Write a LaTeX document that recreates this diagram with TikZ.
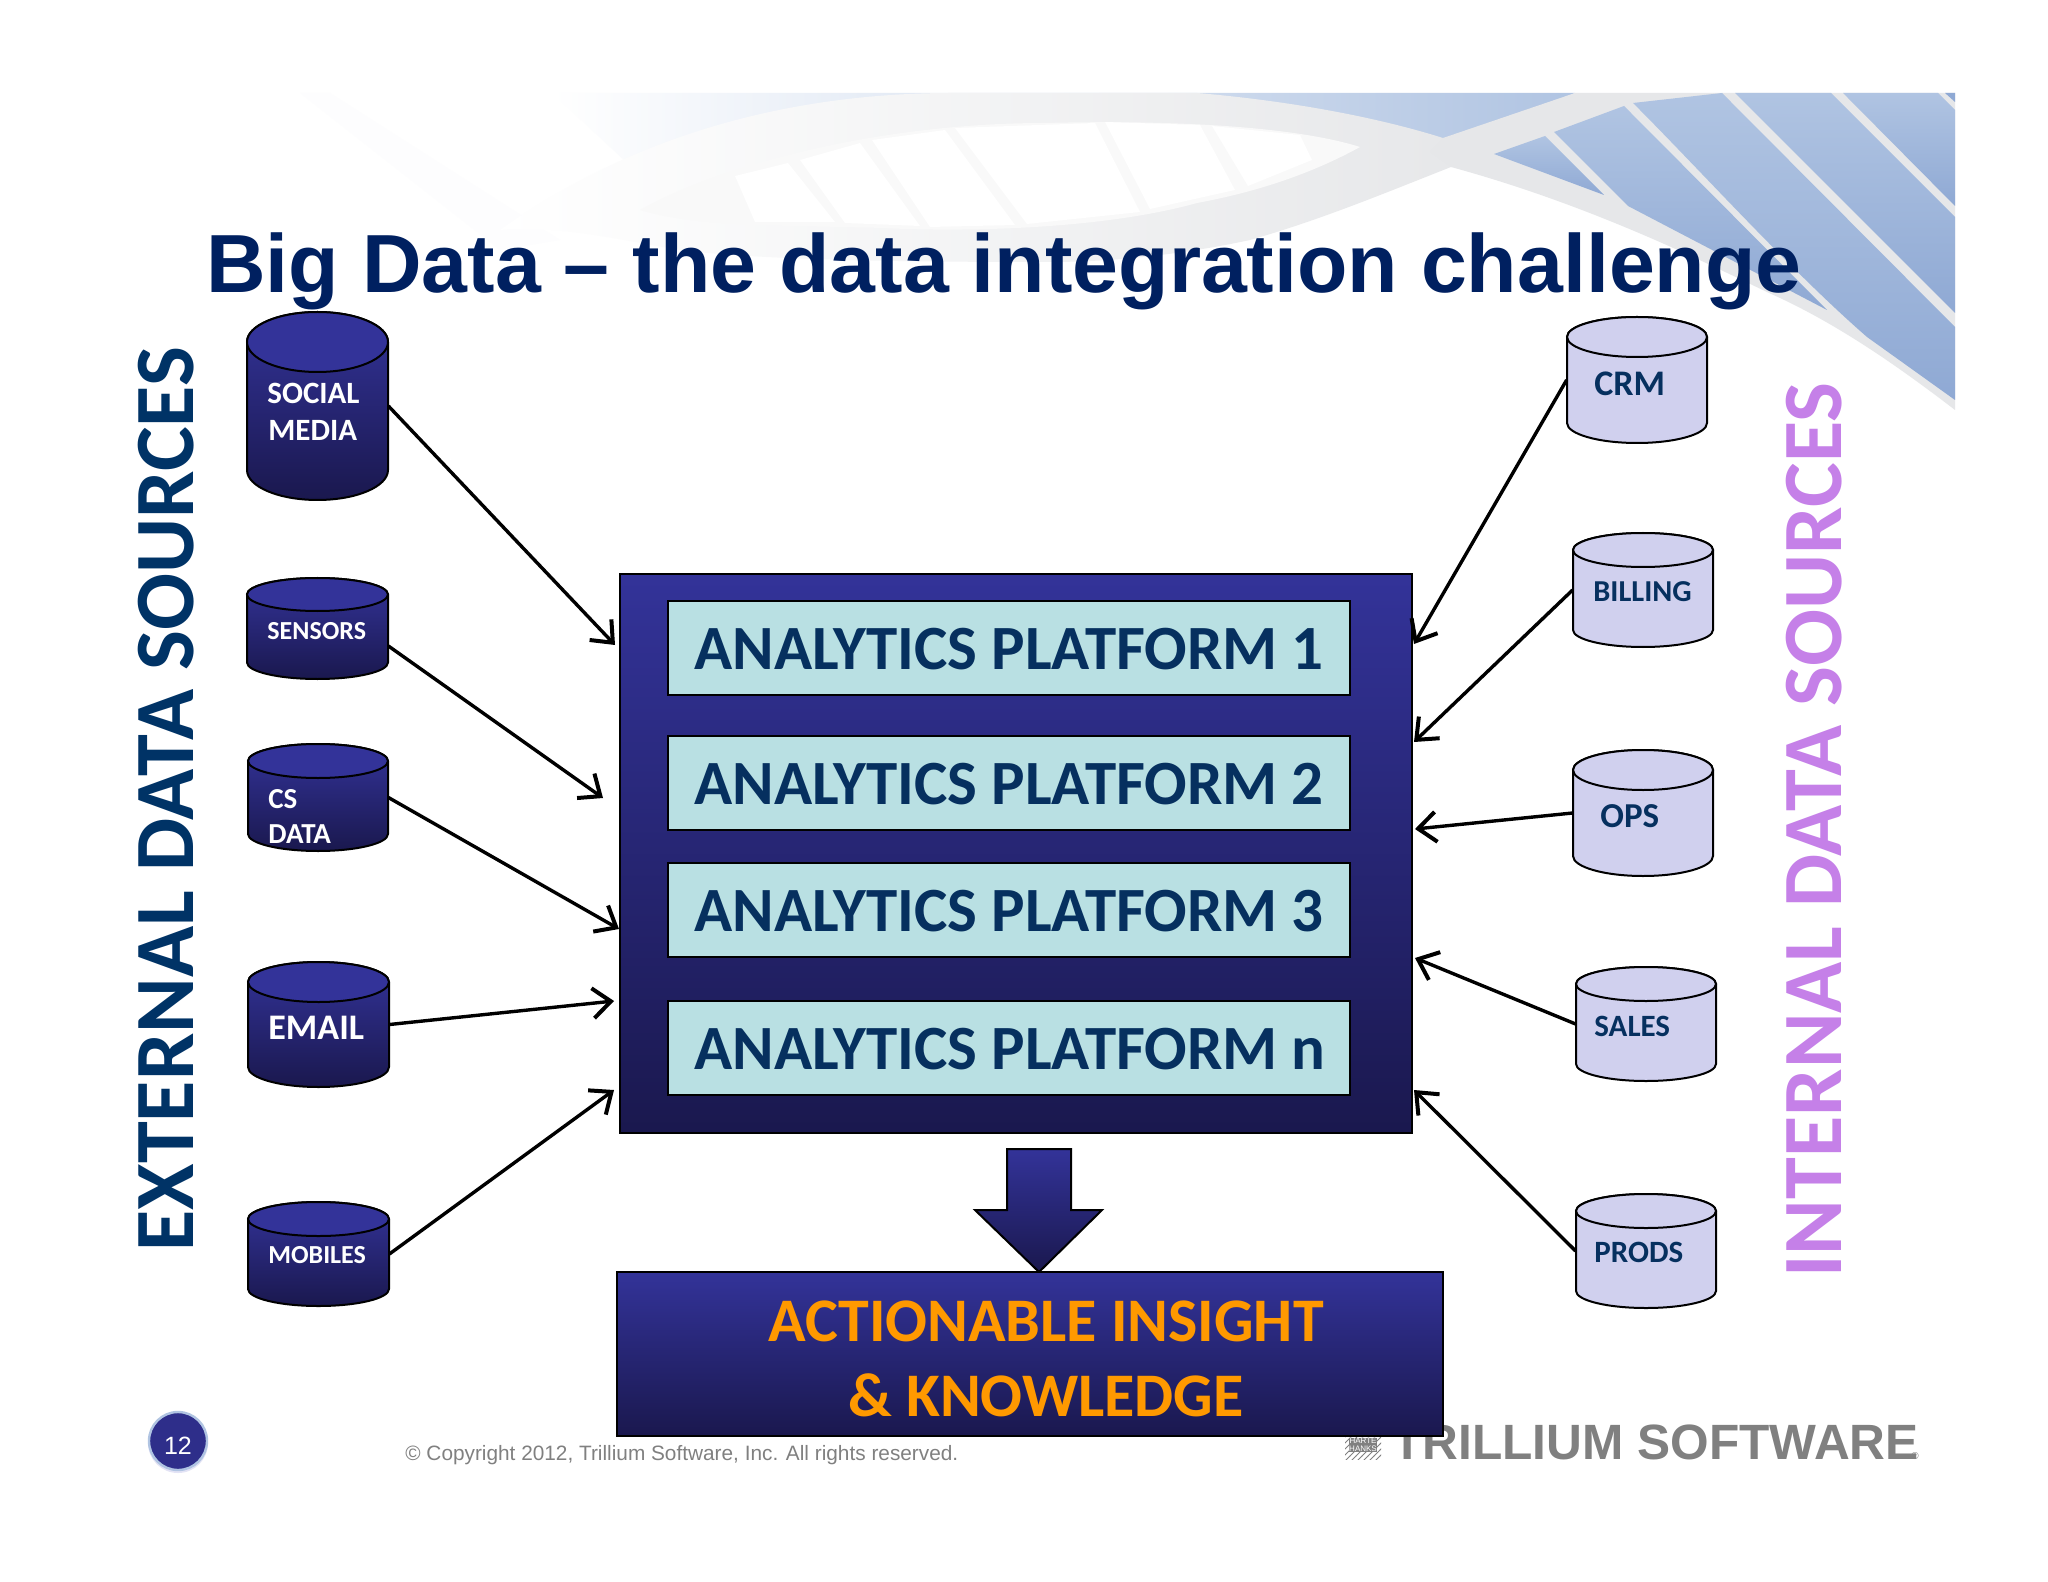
\documentclass[tikz,border=0pt]{standalone}
\usepackage{fontspec}
\setmainfont{Carlito}
\newfontfamily\arialf{Liberation Sans}
\usetikzlibrary{arrows.meta,calc,patterns}
\definecolor{hi}{HTML}{333399}
\definecolor{mid}{HTML}{2C2C88}
\definecolor{lo}{HTML}{1A184E}
\definecolor{lightcyl}{HTML}{D0D0EE}
\definecolor{plat}{HTML}{B9E0E3}
\definecolor{navytxt}{HTML}{06305F}
\definecolor{titlec}{HTML}{002060}
\definecolor{extc}{HTML}{003366}
\definecolor{intc}{HTML}{C580E8}
\definecolor{orangec}{HTML}{FF9900}
\definecolor{band}{HTML}{E6E7E9}
\definecolor{bluea}{HTML}{B0C4E2}
\definecolor{blueb}{HTML}{8FA9D4}
\definecolor{logoc}{HTML}{808080}
\tikzset{
 navyfill/.style={top color=hi,middle color=mid,bottom color=lo},
 darkcyl/.style={navyfill,draw=black,line width=1pt},
 palecyl/.style={fill=lightcyl,draw=black,line width=1pt},
 link/.style={draw=black,line width=1.7pt,-{Straight Barb[length=9pt,width=15pt,line width=2pt]}},
 platbox/.style={draw=black,line width=1pt,fill=plat,inner sep=0pt},
 plattxt/.style={anchor=base west,inner sep=0pt,text=navytxt,font=\fontsize{31.5}{36}\selectfont\bfseries},
 whitelab/.style={anchor=base west,inner sep=0pt,text=white,font=\fontsize{#1}{#1}\selectfont\bfseries},
 navylab/.style={anchor=base west,inner sep=0pt,text=navytxt,font=\fontsize{#1}{#1}\selectfont\bfseries},
 insighttxt/.style={anchor=base,inner sep=0pt,text=orangec,font=\fontsize{31}{36}\selectfont\bfseries},
 sidelab/.style={anchor=base west,rotate=90,inner sep=0pt,font=\fontsize{42.2}{50}\selectfont\bfseries},
}
\newcommand{\cyl}[8]{%
 \pgfmathsetmacro\cw{(#4-#2)*0.25}%
 \pgfmathsetmacro\cr{#6*0.5}%
 \path[#7] (#2,#3+#6) arc[start angle=180,end angle=0,x radius=\cw pt,y radius=\cr pt] -- (#4,#5-#6)
   arc[start angle=0,end angle=-180,x radius=\cw pt,y radius=\cr pt] -- cycle;
 \draw[fill=#8,line width=1pt] ({(#2+#4)/2},#3+#6) ellipse[x radius=\cw pt,y radius=\cr pt];
 \pgfmathsetmacro\nw{(#4-#2)*0.5}%
 \pgfmathsetmacro\nh{(#5-#3)*0.5}%
 \node[inner sep=0pt,minimum width=\nw pt,minimum height=\nh pt] (#1) at ({(#2+#4)/2},{(#3+#5)/2}) {};
}
\begin{document}
\begin{tikzpicture}[x=0.5pt,y=-0.5pt]
\useasboundingbox (0,0) rectangle (2048,1582);
\fill[white] (0,0) rectangle (2048,1582);
% --- background: DNA helix
\shade[left color=white,right color=bluea] (552,93) -- (1575,93) -- (1443,145) -- (1000,145) -- (640,175) -- cycle;
\fill[white!94!band] (300,93) -- (330,93) -- (560,240) -- (500,250) -- cycle;
% arch and lower strand, left of the crossing
\shade[left color=white,right color=band] (500,230) .. controls (640,130) and (800,93) .. (952,93) -- (1197,93)
  .. controls (1280,100) and (1370,115) .. (1443,138) -- (1480,152) -- (1451,167)
  .. controls (1380,195) and (1320,220) .. (1250,240) .. controls (1180,255) and (1110,262) .. (1050,262)
  .. controls (900,262) and (760,260) .. (680,250) .. controls (620,240) and (560,225) .. (500,230) -- cycle;
% inner oval with rungs
\fill[band!25!white] (640,210) .. controls (720,165) and (880,123) .. (1045,123)
  .. controls (1160,120) and (1290,125) .. (1360,147) .. controls (1300,180) and (1240,195) .. (1197,203)
  .. controls (1100,230) and (960,232) .. (882,228) .. controls (790,225) and (700,228) .. (640,210) -- cycle;
\fill[white] (735,176) -- (788,163) -- (835,222) -- (755,222) -- cycle;
\fill[white] (800,160) -- (860,143) -- (920,226) -- (845,223) -- cycle;
\fill[white] (872,140) -- (945,130) -- (1015,225) -- (930,227) -- cycle;
\fill[white] (955,128) -- (1095,123) -- (1140,212) -- (1027,224) -- cycle;
\fill[white] (1105,122) -- (1200,125) -- (1235,190) -- (1150,209) -- cycle;
\fill[white] (1212,126) -- (1300,135) -- (1312,160) -- (1248,186) -- cycle;
% strand to the right of the crossing
\fill[band] (1443,138) -- (1575,93) -- (1955,93) -- (1955,410)
  .. controls (1890,360) and (1830,320) .. (1769,293) .. controls (1700,260) and (1590,205) .. (1451,167) -- (1430,152) -- cycle;
\shade[top color=bluea,bottom color=blueb] (1494,154) -- (1545,136) -- (1604,195) -- cycle;
\shade[top color=bluea,bottom color=blueb] (1554,132) -- (1624,106) -- (1827,310) -- (1628,206) -- cycle;
\shade[top color=bluea,bottom color=blueb] (1633,103) -- (1722,93) -- (1955,327) -- (1955,400) -- (1867,337) .. controls (1790,270) and (1700,170) .. (1633,103) -- cycle;
\shade[top color=bluea,bottom color=blueb] (1735,93) -- (1831,93) -- (1955,217) -- (1955,313) -- cycle;
\shade[top color=bluea,bottom color=blueb] (1843,93) -- (1938,93) -- (1955,110) -- (1955,206) -- cycle;
\fill[blueb] (1945,93) -- (1955,93) -- (1955,102) -- cycle;
% --- title
\node[anchor=base west,inner sep=0pt,text=titlec,font=\arialf\fontsize{41.25}{46}\selectfont\bfseries] (title) at (206,293) {Big Data – the data integration challenge};
% --- side labels
\node[sidelab,text=extc] (extlab) at (193,1252) {EXTERNAL DATA SOURCES};
\node[sidelab,text=intc] (intlab) at (1841,1278) {INTERNAL DATA SOURCES};
% --- footer and logo
\node[anchor=base west,inner sep=0pt,text=logoc,font=\arialf\fontsize{24.8}{28}\selectfont\bfseries] (logo) at (1392,1459) {TRILLIUM SOFTWARE};
\node[anchor=base west,inner sep=0pt,text=logoc,font=\arialf\fontsize{5}{5}\selectfont] (reg) at (1911,1459) {®};
\node[minimum width=18pt,minimum height=18pt,inner sep=0pt,pattern=north east lines,pattern color=logoc] (hh) at (1363,1441) {};
\node[anchor=center,inner sep=0pt,align=center,text=white,fill=logoc,font=\arialf\fontsize{4}{4.2}\selectfont] (hhtext) at (1363,1445) {HARTE\\HANKS};
\node[anchor=base west,inner sep=0pt,text=logoc,font=\arialf\fontsize{10.4}{12}\selectfont] (copy) at (405,1460) {© Copyright 2012, Trillium Software, Inc. All rights reserved.};
\fill[lightcyl!60!white] (178,1443) circle[radius=15pt];
\node[circle,fill=hi!90!black,draw=bluea,line width=1.2pt,minimum size=29pt,inner sep=0pt,text=white,font=\arialf\fontsize{12}{12}\selectfont] (page) at (178,1441) {};
\node[anchor=center,inner sep=0pt,text=white,font=\arialf\fontsize{12.5}{12}\selectfont] (pagenum) at (178,1446) {12};
% --- central box
\node[navyfill,draw=black,line width=1pt,minimum width=396pt,minimum height=279.5pt,inner sep=0pt] (main) at (1016,853.5) {};
\node[platbox,minimum width=341pt,minimum height=47pt] (p1) at (1009,648) {};
\node[platbox,minimum width=341pt,minimum height=47pt] (p2) at (1009,782.5) {};
\node[platbox,minimum width=341pt,minimum height=47pt] (p3) at (1009,910) {};
\node[platbox,minimum width=341pt,minimum height=47pt] (p4) at (1009,1048) {};
\node[plattxt] (p1t) at (694,669) {ANALYTICS PLATFORM 1};
\node[plattxt] (p2t) at (694,804) {ANALYTICS PLATFORM 2};
\node[plattxt] (p3t) at (694,931) {ANALYTICS PLATFORM 3};
\node[plattxt] (p4t) at (694,1069) {ANALYTICS PLATFORM n};
% --- down arrow and result box
\path[navyfill,draw=black,line width=1pt] (1007,1149) -- (1071,1149) -- (1071,1210) -- (1102,1210) -- (1039,1272) -- (975,1210) -- (1007,1210) -- cycle;
\node[navyfill,draw=black,line width=1pt,minimum width=413pt,minimum height=82pt,inner sep=0pt] (ins) at (1030,1354) {};
\node[insighttxt] (ins1) at (1046,1341) {ACTIONABLE INSIGHT};
\node[insighttxt] (ins2) at (1046,1416) {\& KNOWLEDGE};
% --- cylinders
\cyl{social}{247}{312}{388}{500}{30}{darkcyl}{hi}
\cyl{sensors}{247}{578}{388}{679}{16.5}{darkcyl}{hi}
\cyl{csdata}{248}{744}{388}{851}{17}{darkcyl}{hi}
\cyl{email}{248}{962}{389}{1087}{20}{darkcyl}{hi}
\cyl{mobiles}{248}{1202}{389}{1306}{17}{darkcyl}{hi}
\cyl{crm}{1567}{317}{1707}{443}{20}{palecyl}{lightcyl}
\cyl{billing}{1573}{533}{1713}{647}{17}{palecyl}{lightcyl}
\cyl{ops}{1573}{750}{1713}{876}{20}{palecyl}{lightcyl}
\cyl{sales}{1576}{967}{1716}{1081}{17}{palecyl}{lightcyl}
\cyl{prods}{1576}{1194}{1716}{1308}{17}{palecyl}{lightcyl}
\node[whitelab=15.5] (l1a) at (267,404) {SOCIAL};
\node[whitelab=15.5] (l1b) at (268,441) {MEDIA};
\node[whitelab=13] (l2) at (267,639) {SENSORS};
\node[whitelab=14.5] (l3a) at (268,808) {CS};
\node[whitelab=14.5] (l3b) at (268,843) {DATA};
\node[whitelab=18] (l4) at (268,1039) {EMAIL};
\node[whitelab=13] (l5) at (268,1263) {MOBILES};
\node[navylab=18] (r1) at (1594,396) {CRM};
\node[navylab=15.2] (r2) at (1593,602) {BILLING};
\node[navylab=17.5] (r3) at (1600,827) {OPS};
\node[navylab=15.5] (r4) at (1594,1036) {SALES};
\node[navylab=15.5] (r5) at (1594,1262) {PRODS};
% --- connectors
\coordinate (t1) at (615,645);
\coordinate (t2) at (603,798);
\coordinate (t3) at (619,929);
\coordinate (t4) at (614,1001);
\coordinate (t5) at (614,1090);
\coordinate (u1) at (1414,644);
\coordinate (u2) at (1414,742);
\coordinate (u3) at (1415,829);
\coordinate (u4) at (1415,958);
\coordinate (u5) at (1414,1090);
\draw[link] (social.east) -- (t1);
\draw[link] ($(sensors.east)+(0,17.5)$) -- (t2);
\draw[link] (csdata.east) -- (t3);
\draw[link] (email.east) -- (t4);
\draw[link] (mobiles.east) -- (t5);
\draw[link] (crm.west) -- (u1);
\draw[link] (billing.west) -- (u2);
\draw[link] (ops.west) -- (u3);
\draw[link] (sales.west) -- (u4);
\draw[link] (prods.west) -- (u5);
\end{tikzpicture}
\end{document}
